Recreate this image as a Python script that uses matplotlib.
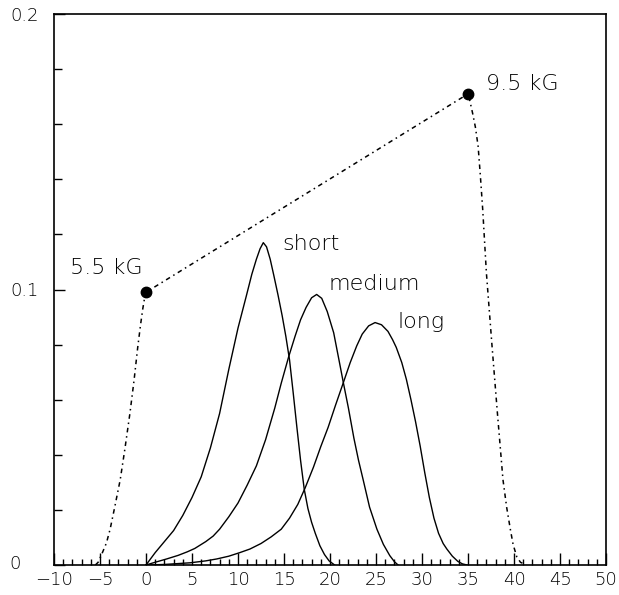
import matplotlib
matplotlib.use('Agg')
import matplotlib.pyplot as plt
import matplotlib.transforms as mtransforms
from matplotlib.ticker import MultipleLocator, FixedLocator

# dash-dot envelope (field scan 5.5 kG -> 9.5 kG)
field_x = [-5.5, -5.2, -4.8, -4.3, -3.9, -3.4, -2.8, -2.3, -1.75, -1.3, -0.9, -0.6, -0.35, -0.15, 0.0,
           35.0, 35.2, 35.5, 35.8, 36.1, 36.35, 36.6, 37.0, 37.6, 38.2, 38.8, 39.2, 39.6, 39.9, 40.3,
           40.7, 41.3]
field_y = [0.0, 0.001, 0.004, 0.008, 0.013, 0.021, 0.031, 0.042, 0.055, 0.067, 0.079, 0.087, 0.093,
           0.097, 0.099,
           0.171, 0.1685, 0.164, 0.159, 0.152, 0.141, 0.129, 0.106, 0.080, 0.055, 0.031, 0.021, 0.013,
           0.0075, 0.003, 0.001, 0.0]

# end points with markers
marker_x = [0.0, 35.0]
marker_y = [0.099, 0.171]
marker_labels = ['5.5 kG', '9.5 kG']

short_x = [0.0, 1.0, 2.0, 3.0, 4.0, 5.0, 6.0, 7.0, 8.0, 9.0, 10.0, 10.9, 11.5, 12.0, 12.4, 12.75,
           13.1, 13.5, 13.9, 14.35, 14.8, 15.2, 15.6, 16.0, 16.4, 16.8, 17.2, 17.6, 18.0, 18.4, 18.9,
           19.4, 19.9, 20.5]
short_y = [0.0, 0.0045, 0.0085, 0.0125, 0.018, 0.0245, 0.032, 0.0425, 0.055, 0.071, 0.086, 0.0976,
           0.1055, 0.111, 0.1148, 0.117,
           0.1155, 0.111, 0.105, 0.098, 0.0905, 0.083, 0.0745, 0.0625, 0.050, 0.038, 0.0275, 0.0205,
           0.0155, 0.0115, 0.007, 0.0038, 0.0015, 0.0]

medium_x = [0.0, 1.0, 2.25, 3.5, 4.5, 5.3, 6.5, 7.3, 8.0, 9.0, 10.0, 11.0, 12.0, 13.0, 14.0, 14.7,
            15.5, 16.2, 16.8, 17.4, 18.0, 18.55, 19.1, 19.7, 20.4, 21.0, 21.45, 22.0, 22.6, 23.1,
            23.6, 24.3, 25.1, 25.8, 26.5, 27.0, 27.4]
medium_y = [0.0, 0.001, 0.0022, 0.0035, 0.0048, 0.006, 0.0085, 0.0105, 0.013, 0.0175, 0.0225, 0.029,
            0.036, 0.0455, 0.057, 0.066,
            0.0755, 0.083, 0.089, 0.0935, 0.097, 0.0982, 0.0968, 0.092, 0.0843, 0.074, 0.0662, 0.057,
            0.046, 0.038, 0.031, 0.021, 0.013, 0.0075, 0.0034, 0.0012, 0.0]

long_x = [0.0, 2.0, 4.8, 6.5, 7.7, 9.0, 10.2, 11.3, 12.5, 13.6, 14.7, 15.6, 16.5, 17.3, 18.2, 19.0,
          19.8, 20.6, 21.45, 22.2, 22.9, 23.5, 24.2, 24.9, 25.6, 26.3, 26.8, 27.2, 27.8, 28.3, 28.8,
          29.3, 29.8, 30.3, 30.8, 31.3, 31.8, 32.3, 32.7, 33.3, 33.9, 34.4, 34.9]
long_y = [0.0, 0.0002, 0.0008, 0.0015, 0.0022, 0.0032, 0.0045, 0.0058, 0.0078, 0.0102, 0.013, 0.017,
          0.022, 0.028, 0.0355, 0.043, 0.050, 0.058, 0.0662, 0.0735, 0.0795, 0.0838, 0.0868, 0.088,
          0.0872, 0.0848, 0.0818, 0.079, 0.0735, 0.0674, 0.060, 0.052, 0.0432, 0.0335, 0.0245, 0.017,
          0.0115, 0.0078, 0.0058, 0.0032, 0.0013, 0.0004, 0.0]

curve_labels = ['short', 'medium', 'long']
label_pos = [(14.8, 0.1145), (19.8, 0.100), (27.3, 0.0862)]

plt.rcParams['font.family'] = ['DejaVu Sans']

fig = plt.figure(figsize=(6.19, 5.95), dpi=100)
ax = fig.add_axes([54 / 619, 1 - 565 / 595, (606 - 54) / 619, (565 - 14) / 595])

ax.plot(field_x, field_y, color='black', lw=1.1, linestyle=(0, (3, 2.5, 1, 2.5)))
ax.plot(marker_x, marker_y, 'o', color='black', markersize=7.5)

for xs, ys in [(short_x, short_y), (medium_x, medium_y), (long_x, long_y)]:
    ax.plot(xs, ys, color='black', lw=1.0)

ax.text(-8.3, 0.1078, marker_labels[0], fontsize=16, va='center', ha='left', fontweight='light')
ax.text(37.0, 0.1745, marker_labels[1], fontsize=16, va='center', ha='left', fontweight='light')
for lab, (lx, ly) in zip(curve_labels, label_pos):
    ax.text(lx, ly, lab, fontsize=16, va='baseline', ha='left', fontweight='light')

ax.set_xlim(-10, 50)
ax.set_ylim(0, 0.2)
ax.xaxis.set_major_locator(MultipleLocator(5))
ax.xaxis.set_minor_locator(MultipleLocator(1))
ax.yaxis.set_major_locator(FixedLocator([0, 0.1, 0.2]))
ax.yaxis.set_minor_locator(MultipleLocator(0.02))
ax.set_yticklabels(['0', '0.1', '0.2'])
ax.tick_params(axis='both', which='both', direction='in', top=False, right=False,
               labelsize=13, width=1.0)
ax.tick_params(axis='x', which='major', length=9, pad=4)
ax.tick_params(axis='x', which='minor', length=4.5)
ax.tick_params(axis='y', which='major', length=8, pad=11)
ax.tick_params(axis='y', which='minor', length=6)
for s in ax.spines.values():
    s.set_linewidth(1.2)
for lab in ax.get_xticklabels() + ax.get_yticklabels():
    lab.set_fontweight('light')

# the "0" on the y axis sits further left, clear of the "-10"
zero_lab = ax.get_yticklabels()[0]
zero_lab.set_transform(zero_lab.get_transform() +
                       mtransforms.ScaledTranslation(-18 / 100, 3 / 100, fig.dpi_scale_trans))

fig.savefig('out.png', dpi=100)
